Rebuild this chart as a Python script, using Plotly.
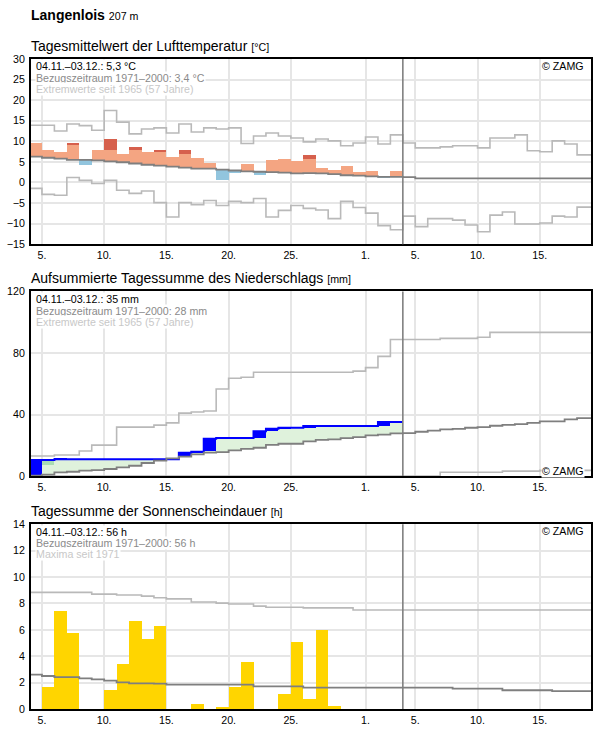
import plotly.graph_objects as go

FONT = "Liberation Sans, Arial, sans-serif"
W, H = 596, 729
ML, MR, MT, MB = 31, 3, 58.5, 17.5
PW, PH = W - ML - MR, H - MT - MB

# ---------------- data (day index 0 = 4 Nov) ----------------
tick_vals = [1, 6, 11, 16, 21, 27, 31, 36, 41]
tick_text = ["5.", "10.", "15.", "20.", "25.", "1.", "5.", "10.", "15."]

# Temperature (°C), observed period 4.11.-3.12.
temp_actual = [9.7, 8.0, 7.3, 9.5, 4.2, 8.0, 10.65, 6.8, 8.5, 7.3, 8.0, 6.3, 8.0, 5.85, 4.65,
               0.6, 2.4, 4.4, 1.9, 5.35, 5.6, 5.1, 6.55, 3.45, 2.95, 3.9, 2.5, 2.7, 1.2, 2.7]
temp_red_from = [None, None, None, 9.0, None, None, 8.0, None, 7.8, None, 7.3, None, 6.8, None, None,
                 None, None, None, None, None, None, None, 5.6, None, None, None, None, None, None, None]
temp_clim = [6.25, 6.0, 5.8, 5.5, 5.5, 5.35, 5.1, 4.9, 4.6, 4.3, 4.1, 3.85, 3.6, 3.35, 3.35,
             3.1, 2.9, 2.7, 2.6, 2.5, 2.4, 2.2, 2.25, 2.2, 2.0, 1.75, 1.65, 1.45, 1.35, 1.35,
             1.3, 1.0, 1.0, 1.0, 1.0, 1.0, 1.0, 1.0, 1.0, 1.0, 1.0, 1.0, 1.0, 1.0, 1.0, 1.0]
temp_max = [13.9, 13.9, 12.5, 14.2, 13.8, 12.7, 17.5, 14.65, 11.8, 13.0, 13.25, 12.0, 14.2, 12.25, 13.25,
            13.0, 13.25, 9.45, 11.3, 12.0, 11.3, 10.8, 9.85, 10.55, 10.1, 8.9, 9.6, 11.05, 9.35, 11.55,
            9.6, 8.4, 8.4, 8.65, 8.9, 8.9, 8.4, 10.8, 10.8, 11.55, 7.7, 7.45, 10.1, 9.35, 6.7, 6.7]
temp_min = [-1.45, -2.9, -3.1, 1.2, 0.5, -0.25, 0.5, -1.9, -2.65, -2.1, -4.9, -8.4, -4.9, -5.4, -4.4,
            -5.6, -4.6, -4.9, -3.9, -8.4, -6.8, -5.6, -6.3, -6.7, -8.8, -4.6, -6.1, -7.45, -10.5, -11.5,
            -8.2, -10.75, -8.8, -8.8, -9.15, -10.35, -12.0, -7.95, -7.2, -10.1, -10.1, -9.85, -8.2, -8.4, -6.0, -6.0]

# Precipitation (mm): daily sums, cumulated
precip_daily = [10.4, 0, 0.5, 0, 0, 0, 0, 0, 0, 0, 0, 0, 4.3, 0.6, 8.5,
                0.4, 0, 0, 4.5, 1.5, 0.7, 0, 1.1, 0, 0, 0, 0, 0, 2.6, 0]
precip_mark_day = 1          # darker green marker on 5 Nov
precip_mark_low = 6.9
precip_clim = [0.3, 0.9, 2.4, 2.8, 3.5, 3.9, 4.6, 5.6, 6.7, 8.5, 10.0, 11.5, 12.6, 14.1, 15.2,
               15.6, 16.7, 17.7, 18.4, 20.3, 21.0, 21.0, 22.6, 23.5, 23.8, 24.6, 25.3, 26.4, 27.0, 27.7,
               27.9, 28.8, 29.6, 30.3, 30.7, 31.4, 31.8, 32.7, 33.3, 33.7, 34.6, 35.5, 35.5, 36.8, 37.6, 37.6]
precip_max = [13.0, 13.0, 13.7, 13.7, 16.3, 20.1, 20.1, 31.8, 31.8, 31.8, 33.1, 34.6, 40.9, 41.6, 42.3,
              56.6, 63.6, 64.2, 67.5, 67.5, 67.5, 67.5, 67.5, 67.5, 67.5, 67.5, 68.2, 70.5, 77.8, 88.8,
              88.8, 88.8, 88.8, 89.5, 89.5, 89.5, 90.2, 93.4, 93.4, 93.4, 93.4, 93.4, 93.4, 93.4, 93.4, 93.4]
precip_min = [0] * 33 + [2.5, 2.5, 2.5, 2.5, 2.5, 3.2, 3.2, 3.2, 3.7, 3.7, 3.7, 3.7, 3.7]

# Sunshine duration (h)
sun_actual = [0, 1.65, 7.38, 5.72, 0, 0, 1.45, 3.4, 6.63, 5.27, 6.25, 0, 0, 0.36, 0,
              0.1, 1.65, 3.53, 0, 0, 1.12, 5.04, 0.74, 5.95, 0.21, 0, 0, 0, 0, 0]
sun_clim = [2.6, 2.5, 2.42, 2.42, 2.32, 2.25, 2.15, 2.02, 1.95, 1.95, 1.93, 1.85, 1.85, 1.85, 1.85,
            1.85, 1.85, 1.85, 1.72, 1.72, 1.72, 1.72] + [1.62] * 12 + [1.55] * 4 + [1.42] * 4 + [1.35] * 4
sun_max = [8.84] * 5 + [8.71] * 2 + [8.64] * 2 + [8.56, 8.43] + [8.35] * 2 + [8.11] * 2 + [8.03] \
          + [7.96] * 2 + [7.8] + [7.72] * 3 + [7.67] * 4 + [7.51] * 20

# ---------------- helpers ----------------
def xp(px):
    return (px - ML) / PW

def yp(px):
    return (H - MB - px) / PH

def step(vals):
    xs = list(range(len(vals) + 1))
    return xs, list(vals) + [vals[-1]]

C_CLIM = "#7f7f7f"
C_EXT = "#b9b9b9"
GRID = "#e6e6e6"

fig = go.Figure()

def line(vals, color, width, ax, ay):
    xs, ys = step(vals)
    fig.add_trace(go.Scatter(x=xs, y=ys, mode="lines", line=dict(color=color, width=width, shape="hv"),
                             xaxis=ax, yaxis=ay, hoverinfo="skip", showlegend=False))

def bars(xc, base, height, color, ax, ay):
    fig.add_trace(go.Bar(x=xc, y=height, base=base, width=1, marker=dict(color=color, line=dict(width=0)),
                         xaxis=ax, yaxis=ay, hoverinfo="skip", showlegend=False))

n = len(temp_actual)

# ---- panel 1: temperature ----
line(temp_max, C_EXT, 1.6, "x", "y")
line(temp_min, C_EXT, 1.6, "x", "y")
xw, bw, hw = [], [], []
xc, bc, hc = [], [], []
xr, br, hr = [], [], []
for d in range(n):
    c, v = temp_clim[d], temp_actual[d]
    if v >= c:
        top = temp_red_from[d] if temp_red_from[d] is not None else v
        xw.append(d + 0.5); bw.append(c); hw.append(top - c)
        if temp_red_from[d] is not None:
            xr.append(d + 0.5); br.append(top); hr.append(v - top)
    else:
        xc.append(d + 0.5); bc.append(v); hc.append(c - v)
bars(xw, bw, hw, "#f4a582", "x", "y")
bars(xr, br, hr, "#d6604d", "x", "y")
bars(xc, bc, hc, "#92c5de", "x", "y")
line(temp_clim, C_CLIM, 1.8, "x", "y")

# ---- panel 2: precipitation ----
cum = []
s = 0
for p in precip_daily:
    s += p
    cum.append(round(s, 2))
line(precip_max, C_EXT, 1.6, "x2", "y2")
line(precip_min, C_EXT, 1.6, "x2", "y2")
gx, gb, gh = [], [], []
bx, bb, bh = [], [], []
for d in range(n):
    c = precip_clim[d]
    if cum[d] > c:
        gx.append(d + 0.5); gb.append(c); gh.append(cum[d] - c)
    if precip_daily[d] > 0:
        prev = cum[d - 1] if d > 0 else 0
        lo = max(prev, c)
        if cum[d] > lo:
            bx.append(d + 0.5); bb.append(lo); bh.append(cum[d] - lo)
bars(gx, gb, gh, "#dff2dc", "x2", "y2")
bars([precip_mark_day + 0.5], [precip_mark_low], [cum[precip_mark_day] - precip_mark_low], "#a9dcb4", "x2", "y2")
bars(bx, bb, bh, "#0000ff", "x2", "y2")
xs, ys = step(cum)
fig.add_trace(go.Scatter(x=xs, y=ys, mode="lines", line=dict(color="#0000ff", width=2, shape="hv"),
                         xaxis="x2", yaxis="y2", hoverinfo="skip", showlegend=False))
line(precip_clim, C_CLIM, 1.8, "x2", "y2")

# ---- panel 3: sunshine ----
line(sun_max, C_EXT, 1.6, "x3", "y3")
sx = [d + 0.5 for d in range(n) if sun_actual[d] > 0]
sh = [v for v in sun_actual if v > 0]
bars(sx, [0] * len(sx), sh, "#ffd500", "x3", "y3")
line(sun_clim, C_CLIM, 1.8, "x3", "y3")

# ---------------- layout ----------------
ndays = len(temp_clim)
xr_ = [0.12, ndays - 0.88]
P = [(58.5, 244.5), (292, 477.5), (526, 711.5)]
yranges = [[-15, 30], [0, 120], [0, 14]]
dticks = [5, 40, 2]

layout = dict(width=W, height=H, margin=dict(l=ML, r=MR, t=MT, b=MB, pad=0),
              paper_bgcolor="white", plot_bgcolor="white", barmode="overlay", bargap=0,
              font=dict(family=FONT, size=10.67, color="black"), showlegend=False)
for i in range(3):
    sfx = "" if i == 0 else str(i + 1)
    layout["xaxis" + sfx] = dict(domain=[0, 1], range=xr_, anchor="y" + sfx, tickmode="array",
                                 tickvals=tick_vals, ticktext=tick_text, showgrid=True, gridcolor=GRID,
                                 gridwidth=1.5, zeroline=False, showline=True, linecolor="black",
                                 linewidth=2, mirror=True, ticks="", tickfont=dict(size=10.67, color="black"),
                                 fixedrange=True)
    layout["yaxis" + sfx] = dict(domain=[max(0, yp(P[i][1])), min(1, yp(P[i][0]))], range=yranges[i],
                                 anchor="x" + sfx, dtick=dticks[i], tick0=0, showgrid=True, gridcolor=GRID,
                                 gridwidth=1.5, zeroline=False, showline=True, linecolor="black",
                                 linewidth=2, mirror=True, ticks="", tickfont=dict(size=10.67, color="black"),
                                 ticklabelstandoff=2, fixedrange=True)
fig.update_layout(**layout)

# today marker (end of observed period)
for i in range(3):
    sfx = "" if i == 0 else str(i + 1)
    fig.add_shape(type="line", xref="x" + sfx, yref="y" + sfx + " domain", x0=n, x1=n, y0=0, y1=1,
                  line=dict(color="#808080", width=1.6), layer="above")

def text(s, px_x, baseline, size, color="black", anchor="left", bg=None):
    fig.add_annotation(x=xp(px_x), y=yp(baseline - 0.34 * size), xref="paper", yref="paper", text=s,
                       showarrow=False, xanchor=anchor, yanchor="middle", align=anchor,
                       font=dict(family=FONT, size=size, color=color),
                       bgcolor=bg, borderpad=0)

text("<b>Langenlois</b> <span style='font-size:10.67px'>207 m</span>", 30, 19.3, 14)
titles = ["Tagesmittelwert der Lufttemperatur", "Aufsummierte Tagessumme des Niederschlags",
          "Tagessumme der Sonnenscheindauer"]
units = ["[°C]", "[mm]", "[h]"]
title_base = [50, 283, 517.3]
for t, u, b in zip(titles, units, title_base):
    text(t + " <span style='font-size:10.67px'>" + u + "</span>", 30, b, 14)

legends = [
    ["04.11.–03.12.: 5,3 °C", "Bezugszeitraum 1971–2000: 3,4 °C", "Extremwerte seit 1965 (57 Jahre)"],
    ["04.11.–03.12.: 35 mm", "Bezugszeitraum 1971–2000: 28 mm", "Extremwerte seit 1965 (57 Jahre)"],
    ["04.11.–03.12.: 56 h", "Bezugszeitraum 1971–2000: 56 h", "Maxima seit 1971"],
]
leg_base = [[69.3, 81, 92.7], [303.7, 314.8, 325.9], [537.3, 548.3, 559.3]]
leg_col = ["black", "#8a8a8a", "#c8c8c8"]
for lines_, bases in zip(legends, leg_base):
    for s_, b_, c_ in zip(lines_, bases, leg_col):
        text(s_, 35, b_, 10.67, c_, bg="white")

for b_ in [69.3, 476, 536.7]:
    text("© ZAMG", 587, b_, 10.67, "black", anchor="right", bg="white")

fig.write_html("out.html")
